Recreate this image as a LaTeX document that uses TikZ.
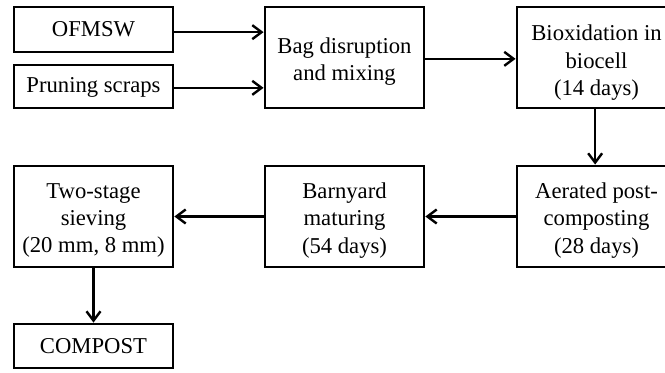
\documentclass[tikz,border=0pt]{standalone}
\usepackage{fontspec}
\setmainfont{Liberation Serif}
\usetikzlibrary{arrows.meta}
\begin{document}
\begin{tikzpicture}[x=0.75pt,y=-0.75pt,
  box/.style={draw,line width=2.1pt,align=center,inner sep=0pt,minimum width=119.25pt,
    font=\fontsize{17}{20.6}\selectfont},
  tall/.style={minimum height=75.75pt},
  txt/.style={align=center,inner sep=0pt,font=\fontsize{17}{20.6}\selectfont},
  conn/.style={line width=1.8pt,-{Straight Barb[length=7pt,width=10.5pt,line width=1.8pt]}}]
\useasboundingbox (0,0) rectangle (665,372);
\clip (0,0) rectangle (665,372);
\node[box,minimum height=33.75pt] (ofmsw) at (93.5,29.5) {OFMSW};
\node[box,minimum height=32.25pt] (prun) at (93.5,86.5) {};
\node[txt] (prunt) at ([yshift=-1pt]prun.center) {Pruning scraps};
\node[box,tall] (bag) at (344.5,57.5) {};
\node[txt] (bagt) at ([yshift=-3pt]bag.center) {Bag disruption\\and mixing};
\node[box,tall] (bio) at (596.5,57.5) {};
\node[txt] (biot) at ([yshift=-4pt]bio.center) {Bioxidation in\\biocell\\(14 days)};
\node[box,tall] (aer) at (596.5,216.5) {};
\node[txt] (aert) at ([yshift=-3pt]aer.center) {Aerated post-\\composting\\(28 days)};
\node[box,tall] (barn) at (344.5,216.5) {};
\node[txt] (barnt) at ([yshift=-3pt]barn.center) {Barnyard\\maturing\\(54 days)};
\node[box,tall] (two) at (93.5,216.5) {};
\node[txt] (twot) at ([yshift=-3pt]two.center) {Two-stage\\sieving\\(20 mm, 8 mm)};
\node[box,minimum height=33pt] (comp) at (93.5,346) {COMPOST};
\draw[conn] ([yshift=-2]ofmsw.east) -- ([yshift=-2]ofmsw.east -| bag.west);
\draw[conn] ([yshift=-1]prun.east) -- ([yshift=-1]prun.east -| bag.west);
\draw[conn] ([yshift=-1]bag.east) -- ([yshift=-1]bio.west);
\draw[conn] ([xshift=-1]bio.south) -- ([xshift=-1]aer.north);
\draw[conn] (aer.west) -- (barn.east);
\draw[conn] (barn.west) -- (two.east);
\draw[conn] (two.south) -- (comp.north);
\end{tikzpicture}
\end{document}
